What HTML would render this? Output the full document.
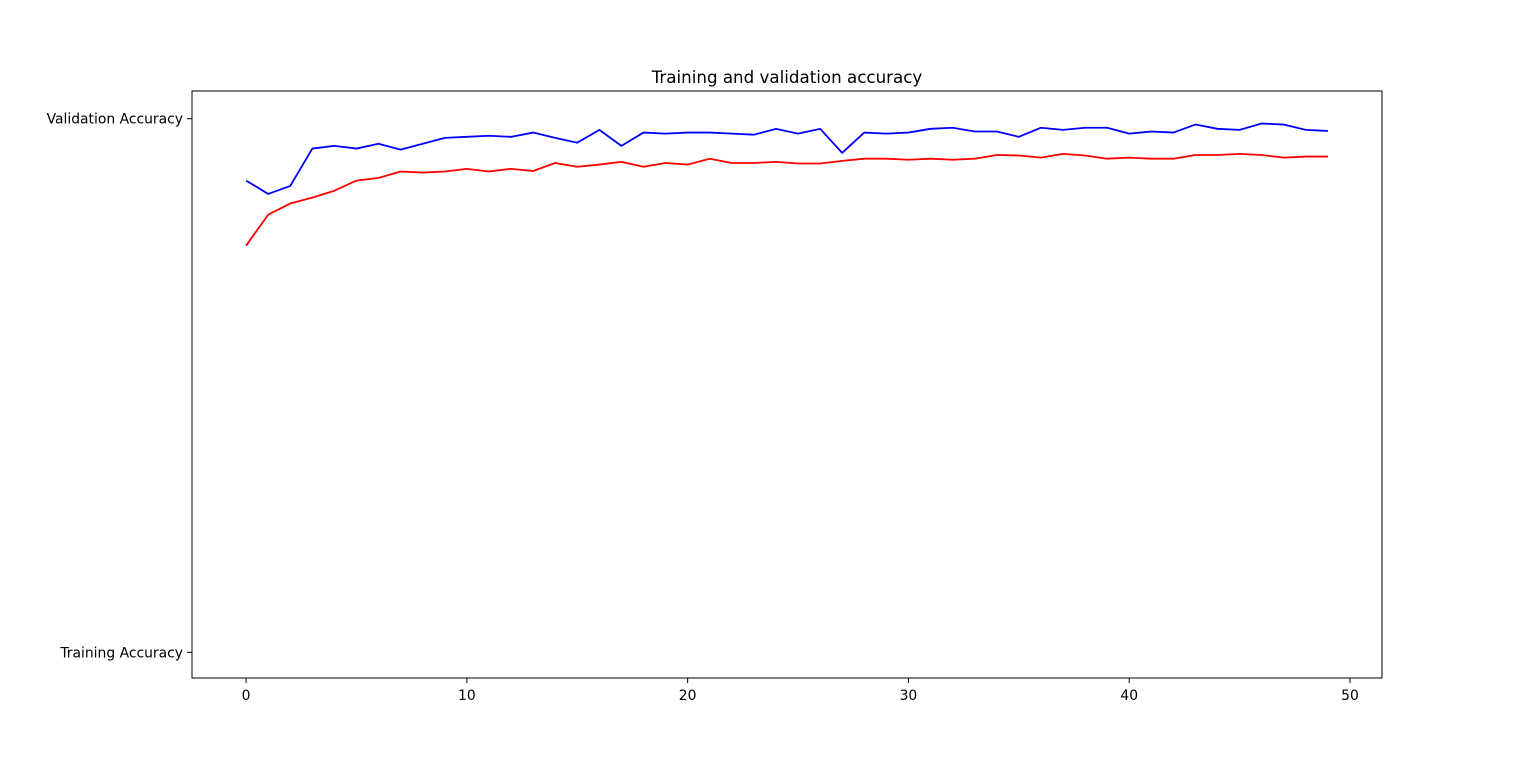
<!DOCTYPE html>
<html><head><meta charset="utf-8"><style>
body{margin:0;background:#fff;}
svg text{font-family:"DejaVu Sans","Liberation Sans",sans-serif;}
</style></head><body>
<svg id="chart" width="1536" height="762" xmlns="http://www.w3.org/2000/svg">
<rect width="1536" height="762" fill="#fff"/>
<text x="787" y="83" text-anchor="middle" font-size="16.7">Training and validation accuracy</text>
<g id="series"></g>
<g id="axes"></g>
<rect x="192" y="91" width="1190" height="587" fill="none" stroke="#000" stroke-width="1"/>
</svg>
<script>
const xTicks=[0,10,20,30,40,50];
const yTickValues=[0,1];
const yTickLabels=["Training Accuracy","Validation Accuracy"];
const trainAcc=[.762,.820,.841,.852,.865,.884,.889,.901,.899,.901,.906,.901,.906,.902,.917,.910,.914,.919,.910,.917,.914,.925,.917,.917,.919,.916,.916,.921,.925,.925,.923,.925,.923,.925,.932,.931,.927,.934,.931,.925,.927,.925,.925,.932,.932,.934,.932,.927,.929,.929];
const valAcc=[.884,.859,.874,.944,.949,.944,.953,.942,.953,.964,.966,.968,.966,.974,.964,.955,.979,.949,.974,.972,.974,.974,.972,.970,.981,.972,.981,.936,.974,.972,.974,.981,.983,.976,.976,.966,.983,.979,.983,.983,.972,.976,.974,.989,.981,.979,.991,.989,.979,.977];
const L=192,R=1382,T=91,B=678;
const xMin=-2.45,xMax=51.45,yMin=-0.05,yMax=1.05;
const xs=v=>L+(v-xMin)/(xMax-xMin)*(R-L);
const ys=v=>B-(v-yMin)/(yMax-yMin)*(B-T)+1;
const NS="http://www.w3.org/2000/svg";
const axes=document.getElementById('axes'),series=document.getElementById('series');
function mk(t,a){const e=document.createElementNS(NS,t);for(const k in a)e.setAttribute(k,a[k]);return e;}
xTicks.forEach(v=>{
  const l=mk('line',{x1:xs(v),x2:xs(v),y1:B,y2:B+5,stroke:'#000'});
  
  
  axes.appendChild(l);
  const t=mk('text',{x:xs(v),y:B+22,'text-anchor':'middle','font-size':'13.9'});
  t.textContent=v;
  
  
  axes.appendChild(t);
});
yTickValues.forEach((v,i)=>{
  const l=mk('line',{x1:L-5,x2:L,y1:ys(v),y2:ys(v),stroke:'#000'});
  
  
  axes.appendChild(l);
  const t=mk('text',{x:L-9,y:ys(v)+5,'text-anchor':'end','font-size':'13.9'});
  t.textContent=yTickLabels[i];
  
  
  axes.appendChild(t);
});
function line(d,c,n){
  const p=mk('polyline',{points:d.map((v,i)=>xs(i)+','+ys(v)).join(' '),fill:'none',stroke:c,'stroke-width':'1.8','stroke-linejoin':'round'});
  
  
  series.appendChild(p);
}
line(trainAcc,'#ff0000','training-accuracy-line');
line(valAcc,'#0000ff','validation-accuracy-line');
</script>
</body></html>
